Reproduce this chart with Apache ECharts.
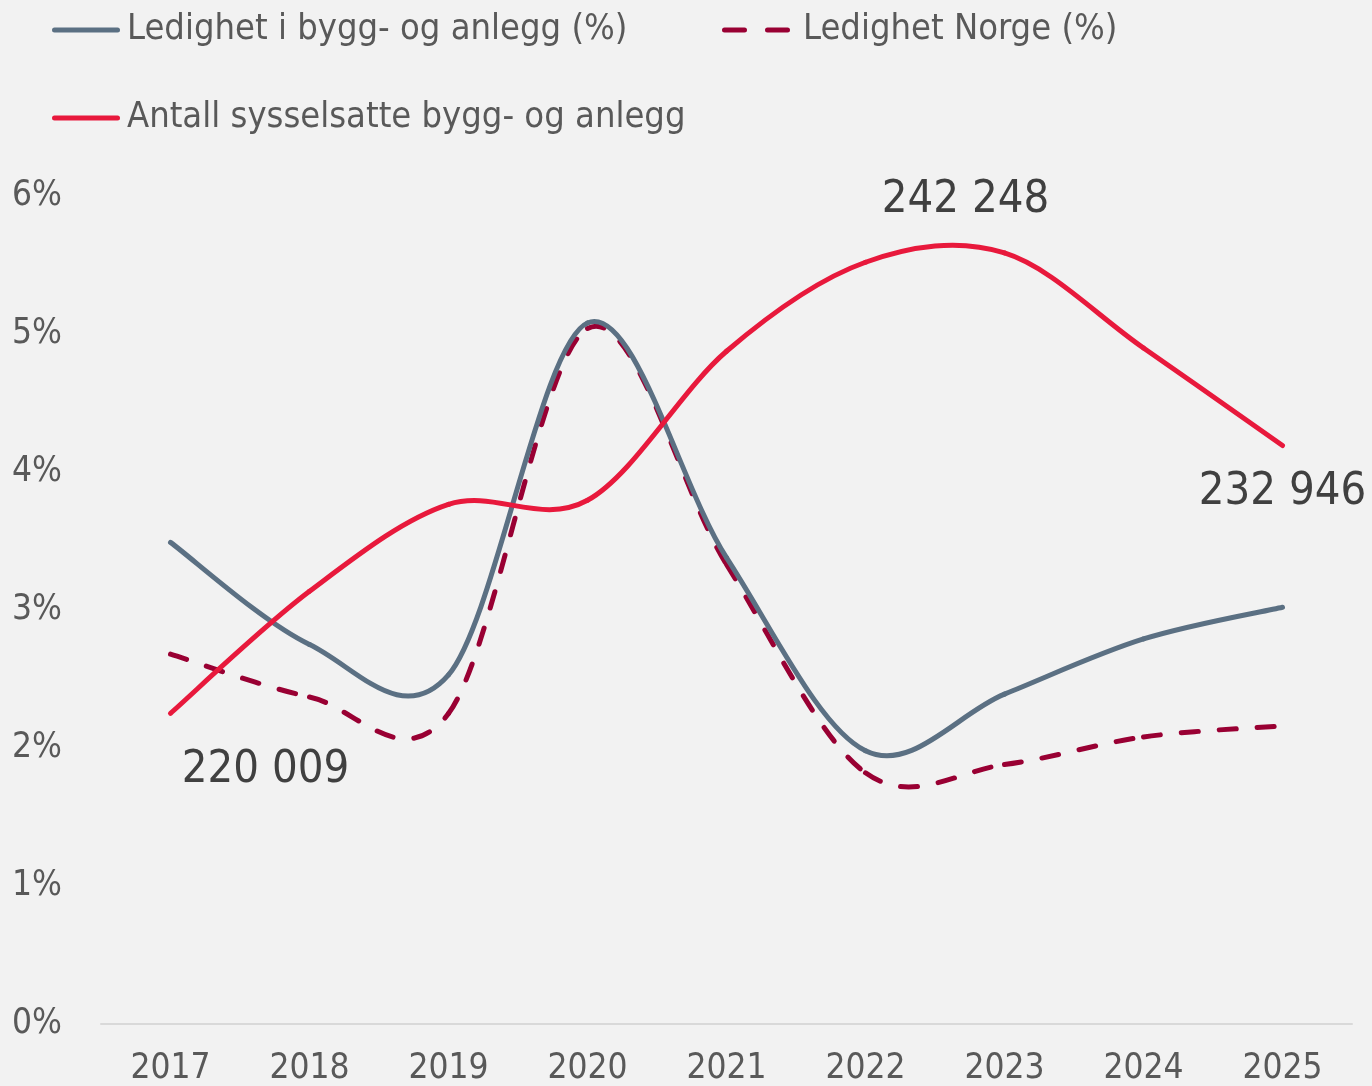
<!DOCTYPE html>
<html>
<head>
<meta charset="utf-8">
<script src="https://cdn.jsdelivr.net/npm/echarts@6/dist/echarts.min.js"></script>
<style>
  html, body { margin: 0; padding: 0; background: #f2f2f2; }
  #chart { width: 1372px; height: 1086px; }
</style>
</head>
<body>
<div id="chart"></div>
<script>
const years = ['2017', '2018', '2019', '2020', '2021', '2022', '2023', '2024', '2025']
const ledighetBygg = [3.49, 2.75, 2.53, 5.08, 3.38, 1.98, 2.39, 2.79, 3.02]
const ledighetNorge = [2.68, 2.37, 2.25, 5.04, 3.33, 1.82, 1.88, 2.08, 2.16]
const antallSysselsatte = [220009, 225900, 230100, 230300, 237500, 241800, 242248, 237660, 232946]
const yTicks = [0, 1, 2, 3, 4, 5, 6]

const textFont = 'DejaVu Sans Condensed'
const fmt = (v) => String(v).replace(/\B(?=(\d{3})+(?!\d))/g, ' ')

const GRAY = '#5b7083'
const MAROON = '#990033'
const RED = '#e8193c'

// which red points get a value label, and where the label sits relative to the point
const labelOffsets = { 0: [95, 57], 6: [-39, -53], 8: [0, 47] }

// Excel-like smoothing: cubic segments with Catmull-Rom control points
const smoothRenderer = (color, dash, withLabels) => (params, api) => {
  const i = params.dataIndexInside
  const n = params.dataInsideLength
  const pt = (k) => {
    k = Math.max(0, Math.min(n - 1, k))
    return api.coord([api.value(0, k), api.value(1, k)])
  }
  const children = []
  if (i < n - 1) {
    const p0 = pt(i - 1), p1 = pt(i), p2 = pt(i + 1), p3 = pt(i + 2)
    children.push({
      type: 'bezierCurve',
      shape: {
        x1: p1[0], y1: p1[1], x2: p2[0], y2: p2[1],
        cpx1: p1[0] + (p2[0] - p0[0]) / 6, cpy1: p1[1] + (p2[1] - p0[1]) / 6,
        cpx2: p2[0] - (p3[0] - p1[0]) / 6, cpy2: p2[1] - (p3[1] - p1[1]) / 6
      },
      style: { stroke: color, lineWidth: 5, fill: 'none', lineCap: 'round', lineDash: dash }
    })
  }
  if (withLabels && labelOffsets[i]) {
    const p = pt(i)
    children.push({
      type: 'text',
      x: p[0] + labelOffsets[i][0],
      y: p[1] + labelOffsets[i][1],
      z2: 10,
      style: {
        text: fmt(api.value(1, i)),
        font: '45px "DejaVu Sans Condensed"',
        fill: '#404040',
        align: 'center',
        verticalAlign: 'middle'
      }
    })
  }
  return { type: 'group', children }
}

const toPairs = (arr) => arr.map((v, k) => [years[k], v])

const legendText = { fontFamily: textFont, fontSize: 36, color: '#595959', padding: [0, 0, 0, 2] }
const solidIcon = 'path://M2.5,0h63a2.5,2.5 0 0 1 0,5h-63a2.5,2.5 0 0 1 0,-5z'
const dashIcon = 'path://M2.5,0h20a2.5,2.5 0 0 1 0,5h-20a2.5,2.5 0 0 1 0,-5z M45.5,0h20a2.5,2.5 0 0 1 0,5h-20a2.5,2.5 0 0 1 0,-5z'

const chart = echarts.init(document.getElementById('chart'))
chart.setOption({
  backgroundColor: '#f2f2f2',
  animation: false,
  legend: [
    {
      left: 52, top: 12, padding: 0, itemWidth: 68, itemHeight: 5, textStyle: legendText,
      data: [{ name: 'Ledighet i bygg- og anlegg (%)', icon: solidIcon, itemStyle: { color: GRAY } }]
    },
    {
      left: 722, top: 12, padding: 0, itemWidth: 68, itemHeight: 5,
      textStyle: Object.assign({}, legendText, { padding: [0, 0, 0, 8] }),
      data: [{ name: 'Ledighet Norge (%)', icon: dashIcon, itemStyle: { color: MAROON } }]
    },
    {
      left: 52, top: 100, padding: 0, itemWidth: 68, itemHeight: 5, textStyle: legendText,
      data: [{ name: 'Antall sysselsatte bygg- og anlegg', icon: solidIcon, itemStyle: { color: RED } }]
    }
  ],
  grid: { left: 101, right: 20, top: 196, bottom: 61 },
  xAxis: {
    type: 'category',
    data: years,
    boundaryGap: true,
    axisLine: { lineStyle: { color: '#d9d9d9', width: 2 } },
    axisTick: { show: false },
    axisLabel: { fontFamily: textFont, fontSize: 35, color: '#595959', margin: 27 }
  },
  yAxis: [
    {
      type: 'value',
      min: yTicks[0], max: yTicks[yTicks.length - 1], interval: 1,
      splitLine: { show: false },
      axisLine: { show: false },
      axisTick: { show: false },
      axisLabel: { fontFamily: textFont, fontSize: 35, color: '#595959', margin: 39, formatter: '{value}%' }
    },
    {
      type: 'value',
      min: 205000, max: 245000,
      show: false,
      splitLine: { show: false }
    }
  ],
  series: [
    {
      name: 'Ledighet Norge (%)',
      type: 'custom',
      color: MAROON,
      data: toPairs(ledighetNorge),
      renderItem: smoothRenderer(MAROON, [17, 21], false),
      z: 2
    },
    {
      name: 'Ledighet i bygg- og anlegg (%)',
      type: 'custom',
      color: GRAY,
      data: toPairs(ledighetBygg),
      renderItem: smoothRenderer(GRAY, null, false),
      z: 3
    },
    {
      name: 'Antall sysselsatte bygg- og anlegg',
      type: 'custom',
      color: RED,
      yAxisIndex: 1,
      data: toPairs(antallSysselsatte),
      renderItem: smoothRenderer(RED, null, true),
      z: 4
    }
  ]
})
</script>
</body>
</html>
